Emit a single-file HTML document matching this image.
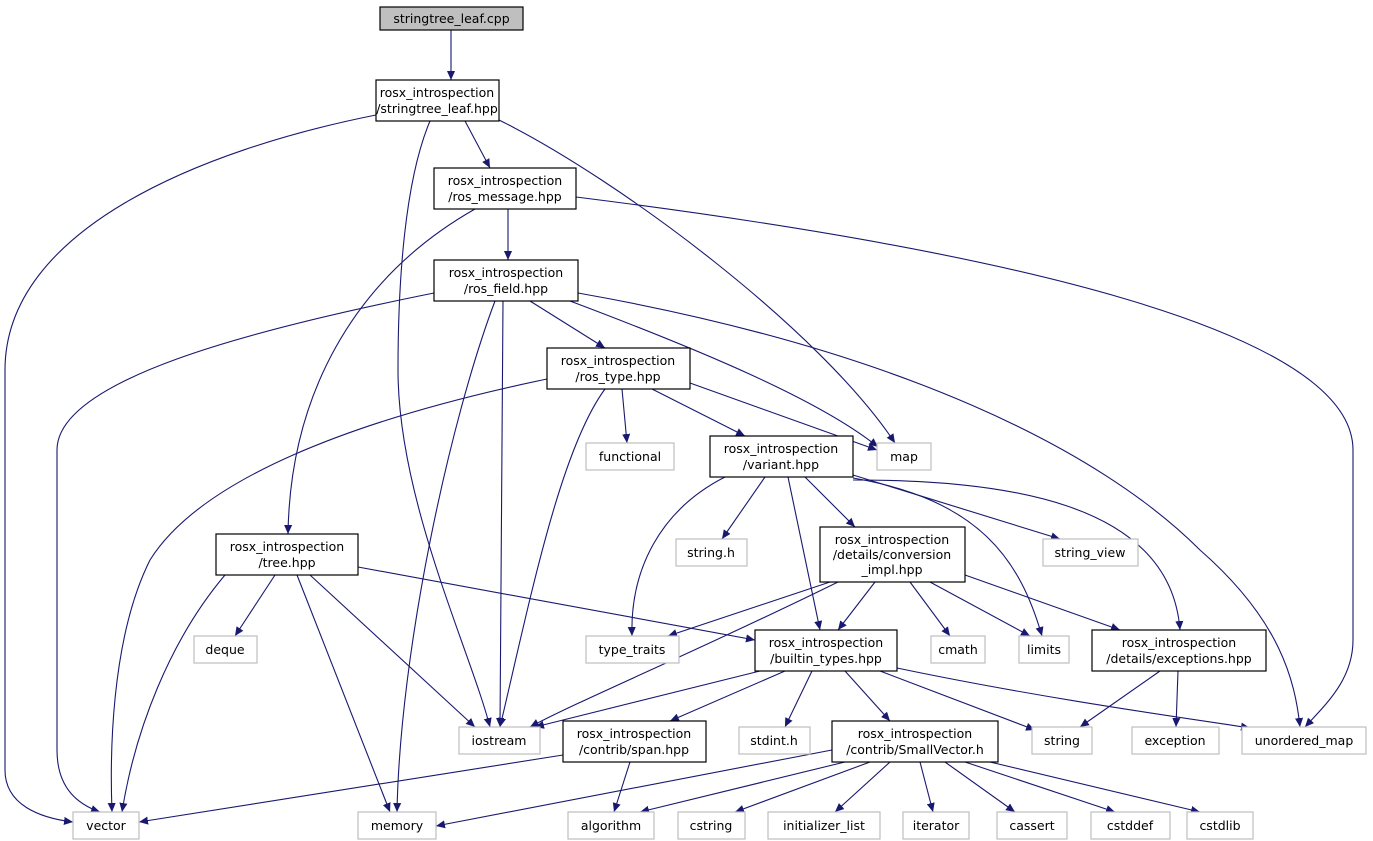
<!DOCTYPE html>
<html><head><meta charset="utf-8"><style>
html,body{margin:0;padding:0;background:#fff;}
svg{display:block;}
text{font-family:"DejaVu Sans","Liberation Sans",sans-serif;font-size:12.5px;fill:#000;}
.n{fill:#fff;stroke:#000;stroke-width:1.2;}
.g{fill:#fff;stroke:#bfbfbf;stroke-width:1.2;}
.e{fill:none;stroke:#191970;stroke-width:1.1;}
</style></head><body>
<svg width="1373" height="841" viewBox="0 0 1373 841" xmlns="http://www.w3.org/2000/svg">
<defs><marker id="a" viewBox="0 0 10 10" refX="10" refY="5" markerWidth="9" markerHeight="9" markerUnits="userSpaceOnUse" orient="auto"><path d="M0,0.5 L10,5 L0,9.5 z" fill="#191970"/></marker></defs>
<g class="e" marker-end="url(#a)">
<path d="M451,30 L451,80"/>
<path d="M376,115 C200,150 5,230 5,370 L5,770 C5,805 40,818 73,822"/>
<path d="M430,121 C405,180 398,280 398,370 C398,500 470,650 490,727"/>
<path d="M465,121 L490,168"/>
<path d="M499,120 C620,180 820,330 895,443"/>
<path d="M508,209 L508,260"/>
<path d="M475,209 C350,280 290,400 288,534"/>
<path d="M576,197 C1000,250 1353,330 1353,450 L1353,640 C1353,680 1325,705 1305,727"/>
<path d="M434,293 C250,330 57,380 57,450 L57,750 C57,790 80,805 100,812"/>
<path d="M503,301 L500,727"/>
<path d="M495,301 C450,420 400,650 397,812"/>
<path d="M530,301 L605,348"/>
<path d="M570,301 C700,350 820,400 878,447"/>
<path d="M578,293 C900,350 1100,450 1200,550 C1280,620 1295,680 1300,727"/>
<path d="M547,379 C350,420 200,480 150,560 C110,640 110,760 112,812"/>
<path d="M605,389 C560,450 530,600 500,727"/>
<path d="M622,389 L627,443"/>
<path d="M652,389 L745,436"/>
<path d="M690,383 L877,450"/>
<path d="M725,477 C660,510 630,570 632,636"/>
<path d="M765,477 L722,539"/>
<path d="M788,477 L820,630"/>
<path d="M805,477 L855,527"/>
<path d="M853,475 L1060,539"/>
<path d="M853,478 C980,500 1020,560 1042,636"/>
<path d="M853,480 C1000,480 1170,500 1180,630"/>
<path d="M225,575 C170,640 135,730 122,812"/>
<path d="M275,575 L235,636"/>
<path d="M297,575 L390,812"/>
<path d="M310,575 L475,727"/>
<path d="M358,567 L755,640"/>
<path d="M830,582 L668,636"/>
<path d="M838,582 C700,650 580,700 530,727"/>
<path d="M875,582 L838,630"/>
<path d="M910,582 L950,636"/>
<path d="M930,582 L1030,636"/>
<path d="M965,575 L1120,630"/>
<path d="M760,671 L535,727"/>
<path d="M785,671 L670,721"/>
<path d="M812,671 L785,727"/>
<path d="M845,671 L890,721"/>
<path d="M880,671 L1035,730"/>
<path d="M897,668 C1050,700 1200,720 1250,728"/>
<path d="M1160,671 L1080,727"/>
<path d="M1178,671 L1176,727"/>
<path d="M563,755 L139,822"/>
<path d="M630,762 L614,812"/>
<path d="M832,750 L436,826"/>
<path d="M845,762 L640,812"/>
<path d="M870,762 L735,812"/>
<path d="M890,762 L835,812"/>
<path d="M920,762 L933,812"/>
<path d="M945,762 L1015,812"/>
<path d="M965,762 L1115,812"/>
<path d="M990,762 L1200,812"/>
</g>
<rect x="380" y="7" width="143" height="23" fill="#bfbfbf" stroke="#000" stroke-width="1.2"/>
<text x="451.5" y="23" text-anchor="middle">stringtree_leaf.cpp</text>
<g class="n">
<rect x="376" y="80" width="123" height="41"/>
<rect x="434" y="168" width="142" height="41"/>
<rect x="434" y="260" width="144" height="41"/>
<rect x="547" y="348" width="143" height="41"/>
<rect x="710" y="436" width="143" height="41"/>
<rect x="216" y="534" width="142" height="41"/>
<rect x="820" y="527" width="145" height="55"/>
<rect x="755" y="630" width="142" height="41"/>
<rect x="1092" y="630" width="174" height="41"/>
<rect x="563" y="721" width="143" height="41"/>
<rect x="832" y="721" width="166" height="41"/>
</g>
<g class="g">
<rect x="877" y="443" width="54" height="27"/>
<rect x="586" y="443" width="88" height="27"/>
<rect x="676" y="539" width="71" height="27"/>
<rect x="1043" y="539" width="95" height="27"/>
<rect x="194" y="636" width="63" height="27"/>
<rect x="586" y="636" width="93" height="27"/>
<rect x="931" y="636" width="54" height="27"/>
<rect x="1019" y="636" width="50" height="27"/>
<rect x="459" y="727" width="81" height="27"/>
<rect x="739" y="727" width="71" height="27"/>
<rect x="1032" y="727" width="60" height="27"/>
<rect x="1132" y="727" width="87" height="27"/>
<rect x="1242" y="727" width="124" height="27"/>
<rect x="73" y="812" width="66" height="27"/>
<rect x="358" y="812" width="78" height="27"/>
<rect x="568" y="812" width="86" height="27"/>
<rect x="678" y="812" width="67" height="27"/>
<rect x="768" y="812" width="112" height="27"/>
<rect x="903" y="812" width="66" height="27"/>
<rect x="997" y="812" width="70" height="27"/>
<rect x="1091" y="812" width="79" height="27"/>
<rect x="1187" y="812" width="66" height="27"/>
</g>
<g text-anchor="middle">
<text x="437" y="97">rosx_introspection</text><text x="437" y="113">/stringtree_leaf.hpp</text>
<text x="505" y="185">rosx_introspection</text><text x="505" y="201">/ros_message.hpp</text>
<text x="506" y="277">rosx_introspection</text><text x="506" y="293">/ros_field.hpp</text>
<text x="618" y="365">rosx_introspection</text><text x="618" y="381">/ros_type.hpp</text>
<text x="781" y="453">rosx_introspection</text><text x="781" y="469">/variant.hpp</text>
<text x="287" y="551">rosx_introspection</text><text x="287" y="567">/tree.hpp</text>
<text x="892" y="544">rosx_introspection</text><text x="892" y="559">/details/conversion</text><text x="892" y="574">_impl.hpp</text>
<text x="826" y="647">rosx_introspection</text><text x="826" y="663">/builtin_types.hpp</text>
<text x="1179" y="647">rosx_introspection</text><text x="1179" y="663">/details/exceptions.hpp</text>
<text x="634" y="738">rosx_introspection</text><text x="634" y="754">/contrib/span.hpp</text>
<text x="915" y="738">rosx_introspection</text><text x="915" y="754">/contrib/SmallVector.h</text>
<text x="904" y="461">map</text>
<text x="630" y="461">functional</text>
<text x="711" y="557">string.h</text>
<text x="1090" y="557">string_view</text>
<text x="225" y="654">deque</text>
<text x="632" y="654">type_traits</text>
<text x="958" y="654">cmath</text>
<text x="1044" y="654">limits</text>
<text x="499" y="745">iostream</text>
<text x="774" y="745">stdint.h</text>
<text x="1062" y="745">string</text>
<text x="1175" y="745">exception</text>
<text x="1304" y="745">unordered_map</text>
<text x="106" y="830">vector</text>
<text x="397" y="830">memory</text>
<text x="611" y="830">algorithm</text>
<text x="711" y="830">cstring</text>
<text x="824" y="830">initializer_list</text>
<text x="936" y="830">iterator</text>
<text x="1032" y="830">cassert</text>
<text x="1130" y="830">cstddef</text>
<text x="1220" y="830">cstdlib</text>
</g>
</svg>
</body></html>
